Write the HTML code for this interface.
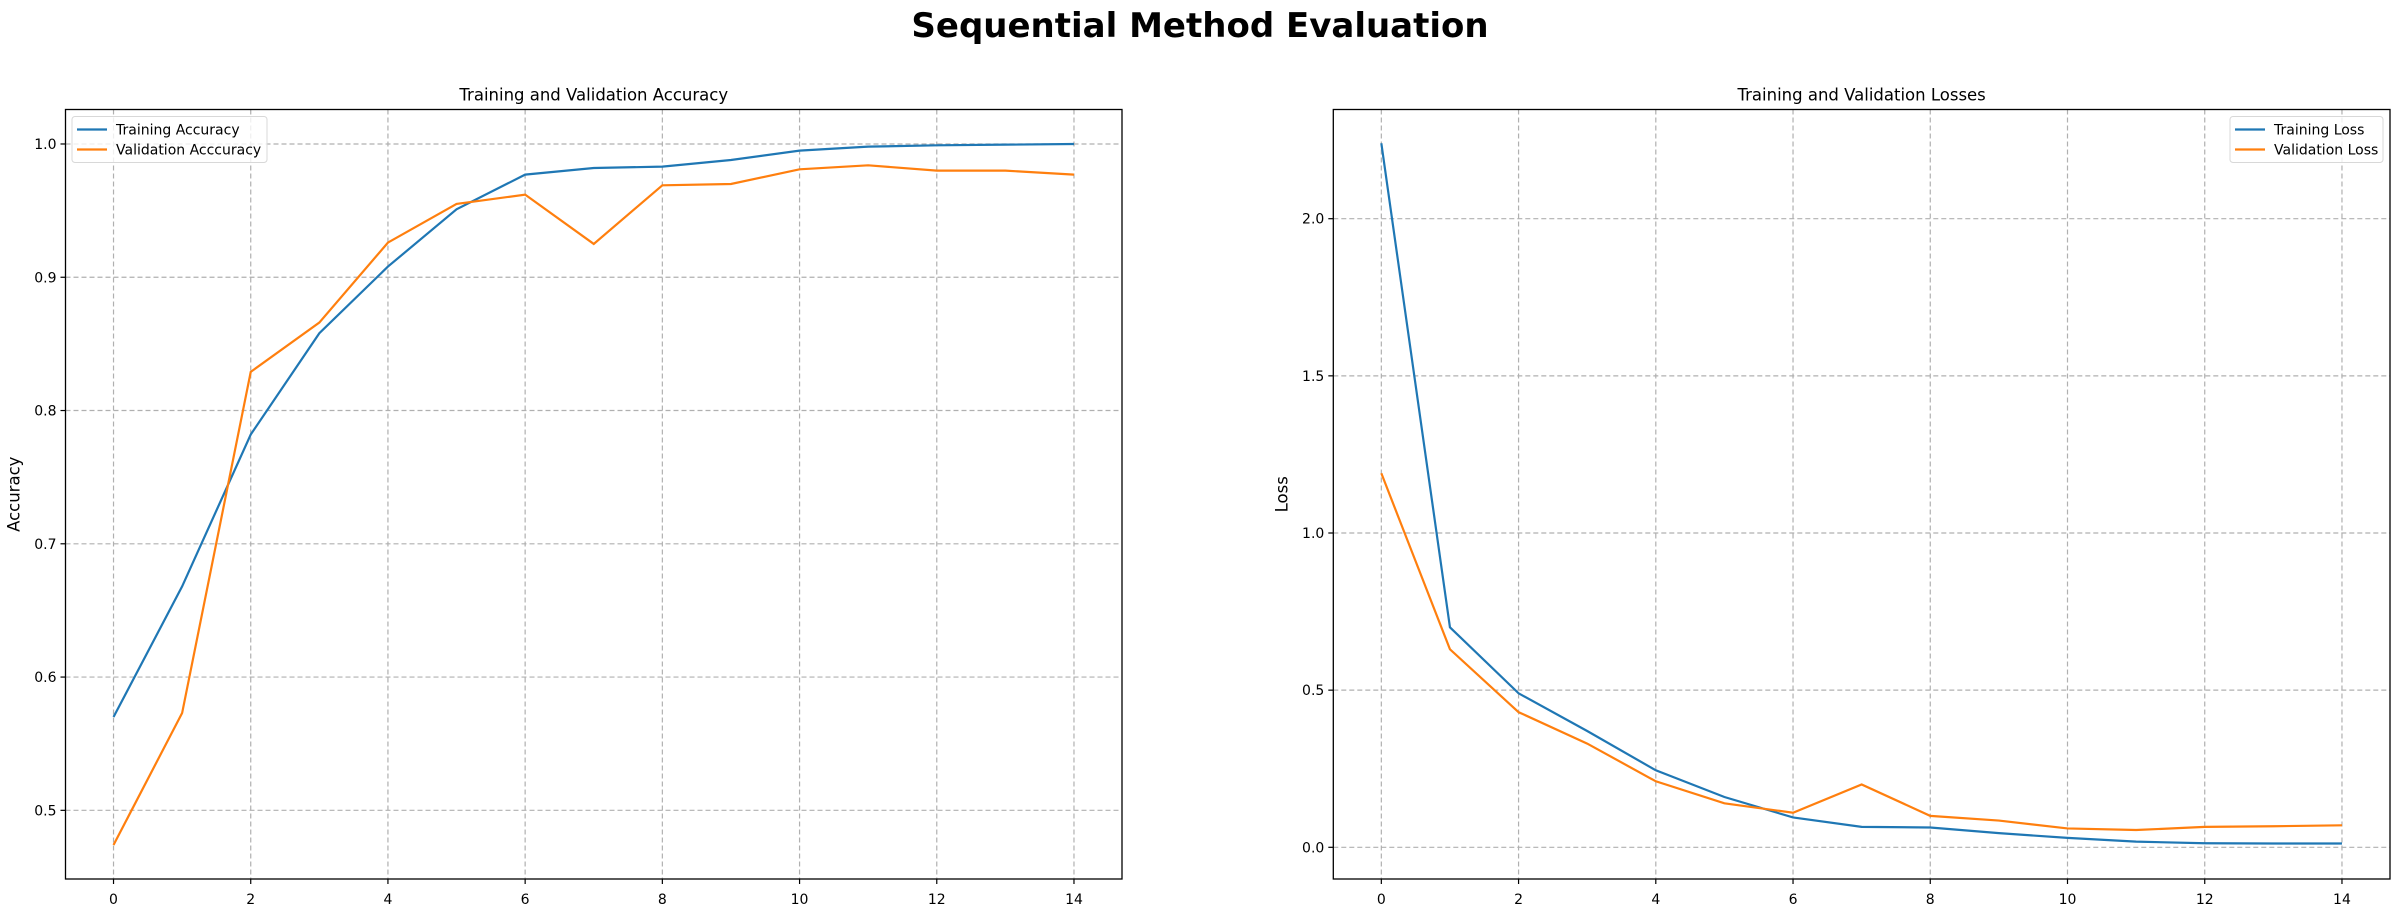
<!DOCTYPE html>
<html><head><meta charset="utf-8"><style>
body{margin:0;background:#fff;}
svg{display:block;font-family:"DejaVu Sans","Liberation Sans",sans-serif;}
</style></head><body>
<svg id="fig" width="2400" height="913" xmlns="http://www.w3.org/2000/svg">
<text x="1200" y="37" text-anchor="middle" font-size="34" font-weight="bold">Sequential Method Evaluation</text>
</svg>
<script>
const epochs=[0,1,2,3,4,5,6,7,8,9,10,11,12,13,14];
const trainAcc=[0.570,0.668,0.782,0.858,0.908,0.951,0.977,0.982,0.983,0.988,0.995,0.998,0.999,0.9995,1.0];
const valAcc=[0.474,0.573,0.829,0.866,0.926,0.955,0.962,0.925,0.969,0.970,0.981,0.984,0.980,0.980,0.977];
const trainLoss=[2.24,0.70,0.49,0.37,0.245,0.16,0.095,0.065,0.063,0.045,0.030,0.018,0.013,0.012,0.012];
const valLoss=[1.19,0.63,0.43,0.33,0.21,0.14,0.11,0.20,0.10,0.085,0.060,0.055,0.065,0.067,0.070];
const xTicks=[0,2,4,6,8,10,12,14];
const accTicks=[0.5,0.6,0.7,0.8,0.9,1.0];
const lossTicks=[0.0,0.5,1.0,1.5,2.0];

const NS="http://www.w3.org/2000/svg";
const svg=document.getElementById('fig');
function el(tag,attrs,parent){const e=document.createElementNS(NS,tag);for(const k in attrs)e.setAttribute(k,attrs[k]);(parent||svg).appendChild(e);return e;}

function panel(o){
  const g=el('g',{});
  
  
  const xs=v=>o.x0+(v-o.xmin)/(o.xmax-o.xmin)*(o.x1-o.x0);
  const ys=v=>o.y1-(v-o.ymin)/(o.ymax-o.ymin)*(o.y1-o.y0);
  xTicks.forEach(t=>{
    const x=xs(t);
    const gl=el('line',{x1:x,x2:x,y1:o.y0,y2:o.y1,stroke:'#b0b0b0','stroke-width':1.2,'stroke-dasharray':'5,3'},g);
    
    
    el('line',{x1:x,x2:x,y1:o.y1,y2:o.y1+5,stroke:'#000','stroke-width':1.2},g);
    const tl=el('text',{x:x,y:o.y1+25,'text-anchor':'middle','font-size':14},g);
    tl.textContent=t;
    
    
  });
  o.yTicks.forEach(t=>{
    const y=ys(t);
    const gl=el('line',{x1:o.x0,x2:o.x1,y1:y,y2:y,stroke:'#b0b0b0','stroke-width':1.2,'stroke-dasharray':'5,3'},g);
    
    
    el('line',{x1:o.x0-5,x2:o.x0,y1:y,y2:y,stroke:'#000','stroke-width':1.2},g);
    const tl=el('text',{x:o.x0-9,y:y+5,'text-anchor':'end','font-size':14},g);
    tl.textContent=t.toFixed(1);
    
    
  });
  o.series.forEach(s=>{
    const p=el('polyline',{points:epochs.map((e,i)=>xs(e)+','+ys(s.data[i])).join(' '),fill:'none',stroke:s.color,'stroke-width':2.2},g);
    
    
  });
  el('rect',{x:o.x0,y:o.y0,width:o.x1-o.x0,height:o.y1-o.y0,fill:'none',stroke:'#000','stroke-width':1.3},g);
  const tt=el('text',{x:(o.x0+o.x1)/2,y:o.y0-9,'text-anchor':'middle','font-size':16.5},g);
  tt.textContent=o.title;
  
  
  const yl=el('text',{x:0,y:0,'text-anchor':'middle','font-size':16.5,transform:`translate(${o.x0-46},${(o.y0+o.y1)/2}) rotate(-90)`},g);
  yl.textContent=o.ylabel;
  
  
  const lg=el('g',{},g);
  
  
  el('rect',{x:o.lx,y:o.y0+7,width:o.lw,height:46,rx:3,fill:'#fff','fill-opacity':0.8,stroke:'#d8d8d8'},lg);
  o.series.forEach((s,i)=>{
    const yy=o.y0+19+i*20;
    el('line',{x1:o.lx+5,x2:o.lx+35,y1:yy+1,y2:yy+1,stroke:s.color,'stroke-width':2.2},lg);
    const t=el('text',{x:o.lx+44,y:yy+6,'font-size':14},lg);
    t.textContent=s.label;
    
    
  });
}
panel({name:'accuracy-panel',x0:65.5,x1:1122,y0:109.5,y1:879,xmin:-0.7,xmax:14.7,
  ymin:0.5-(879-810.3)/1333.3,ymax:1.0+(144-109.5)/1333.3,yTicks:accTicks,
  title:'Training and Validation Accuracy',ylabel:'Accuracy',lx:72,lw:195,
  series:[{id:'training-accuracy-line',label:'Training Accuracy',color:'#1f77b4',data:trainAcc},
          {id:'validation-accuracy-line',label:'Validation Acccuracy',color:'#ff7f0e',data:valAcc}]});
panel({name:'loss-panel',x0:1333.3,x1:2390,y0:109.5,y1:879,xmin:-0.7,xmax:14.7,
  ymin:-(879-847.3)/314.3,ymax:2.0+(218.7-109.5)/314.3,yTicks:lossTicks,
  title:'Training and Validation Losses',ylabel:'Loss',lx:2230,lw:153,
  series:[{id:'training-loss-line',label:'Training Loss',color:'#1f77b4',data:trainLoss},
          {id:'validation-loss-line',label:'Validation Loss',color:'#ff7f0e',data:valLoss}]});
</script>
</body></html>
